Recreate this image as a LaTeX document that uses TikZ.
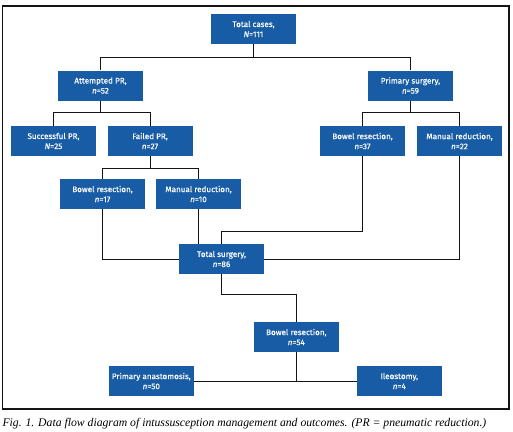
\documentclass[tikz,border=0pt]{standalone}
\usepackage{fontspec}
\setmainfont{Liberation Serif}
\newfontfamily\boxfont{Fira Sans}[FakeBold=0.4]
\usepackage{tikz}
\usetikzlibrary{calc}
\usepackage{xcolor}
\definecolor{boxblue}{RGB}{25,92,166}
\definecolor{wire}{RGB}{20,20,20}
\tikzset{
  fbox/.style={fill=boxblue,text=white,minimum width=85pt,minimum height=30pt,
    inner sep=0pt,align=center,font=\boxfont\fontsize{8.1}{10}\selectfont},
  fwire/.style={wire,line width=0.8pt},
  fframe/.style={wire,line width=1.1pt},
}

\begin{document}
\begin{tikzpicture}[x=1pt,y=-1pt]
  \useasboundingbox (0,0) rectangle (513,431);
  \draw[fframe] (2.3,6) rectangle (509,409);
  % boxes
  \node[fbox] (total)  at (253.5,29)  {Total cases,\\{\itshape N}=111};
  \node[fbox] (attpr)  at (100.5,85.5) {Attempted PR,\\{\itshape n}=52};
  \node[fbox] (prims)  at (410.5,85.5) {Primary surgery,\\{\itshape n}=59};
  \node[fbox] (succ)   at (53.5,141)  {Successful PR,\\{\itshape N}=25};
  \node[fbox] (fail)   at (150,141)   {Failed PR,\\{\itshape n}=27};
  \node[fbox] (bres37) at (362.5,141) {Bowel resection,\\{\itshape n}=37};
  \node[fbox] (mred22) at (459.5,141) {Manual reduction,\\{\itshape n}=22};
  \node[fbox] (bres17) at (102.5,194) {Bowel resection,\\{\itshape n}=17};
  \node[fbox] (mred10) at (198.5,194) {Manual reduction,\\{\itshape n}=10};
  \node[fbox] (tsurg)  at (221.5,259) {Total surgery,\\{\itshape n}=86};
  \node[fbox] (bres54) at (296.3,337) {Bowel resection,\\{\itshape n}=54};
  \node[fbox] (panast) at (151.3,381) {Primary anastomosis,\\{\itshape n}=50};
  \node[fbox] (ileo)   at (399.3,381) {Ileostomy,\\{\itshape n}=4};
  % forks
  \foreach \a/\b/\d in {total/attpr/13,total/prims/13,attpr/succ/12,attpr/fail/12,
      prims/bres37/12,prims/mred22/12,fail/bres17/12.3,fail/mred10/12.3}
    {\draw[fwire] (\a.south) -- ++(0,\d) -| (\b.north);}
  % into total surgery
  \draw[fwire] (bres17.south) |- (tsurg.west);
  \draw[fwire] (mred10.south) -- (mred10.south |- tsurg.north);
  \draw[fwire] (bres37.south) -- ++(0,75) -| (tsurg.north);
  \draw[fwire] (mred22.south) |- (tsurg.east);
  % outcomes
  \draw[fwire] (tsurg.south) -- ++(0,20.6) -| (bres54.north);
  \draw[fwire] (panast.east) -- (ileo.west);
  \draw[fwire] (bres54.south) -- (bres54.south |- panast.east);
  \node[font=\itshape\fontsize{11.7}{13}\selectfont,anchor=base west,inner sep=0pt] (cap) at (2.3,426)
    {Fig. 1. Data flow diagram of intussusception management and outcomes. (PR = pneumatic reduction.)};
\end{tikzpicture}
\end{document}
